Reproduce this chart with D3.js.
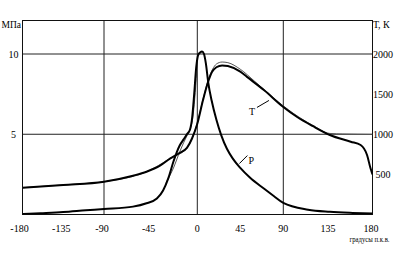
<!DOCTYPE html>
<html><head><meta charset="utf-8">
<script src="https://cdn.jsdelivr.net/npm/d3@7"></script>
<style>
body{margin:0;background:#fff}
svg{display:block}
text{font-family:"Liberation Serif","DejaVu Serif",serif;fill:#000}
</style>
</head><body><svg id="c" width="397" height="255"></svg>
<script>
// ---- data ----
const angleTicks = [-180,-135,-90,-45,0,45,90,135,180];
const gridAngles = [-90,0,90];
const pTicks = [5,10];
const tTicks = [500,1000,1500,2000];

// pressure, MPa (thick curve)
const anglesP  = [-180,-160,-135,-110,-90,-62,-49,-39,-33,-28,-23,-17,-13,-10,-7,-5,-3,-1,1,3,5,7,9,11.5,15,20,25,31,37,45,55,70,80,90,115,137,160,180];
const pressure = [0.03,0.08,0.15,0.26,0.34,0.49,0.7,1.0,1.5,2.25,3.3,4.3,4.7,5.0,5.3,6.0,7.5,9.2,9.95,10.1,10.15,10.0,9.4,8.2,7.1,5.9,4.95,4.1,3.5,2.9,2.3,1.6,1.15,0.72,0.3,0.17,0.1,0.06];
// pressure, MPa (thin curve, differs near the shoulder)
const anglesP2  = [-30,-23,-17,-13,-10,-7,-4,-2,0];
const pressure2 = [2.0,2.9,3.9,4.5,4.9,5.3,6.2,7.6,9.4];

// temperature, K (thick curve)
const anglesT     = [-180,-135,-90,-62,-49,-36,-26,-18,-10,-5,0,6,11.5,15.5,20,26,32,45,52,70,90,104,120,137,158,168,174.5,178,180];
const temperature = [334,368,409,484,533,608,700,760,830,950,1130,1427,1660,1779,1835,1858,1850,1780,1715,1548,1340,1215,1100,991,907,866,741,576,500];
// temperature, K (thin curve)
const anglesT2     = [-180,-135,-90,-49,-26,-10,0,6,11.5,16,20,26,32,45,60,80,100,120,137,150,165,180];
const temperature2 = [334,368,409,533,700,830,1140,1440,1680,1810,1875,1900,1892,1810,1660,1450,1262,1110,1010,1003,1000,998];

const pLabelAngle = 43;
const tLabelAngle = 75;

// ---- drawing ----
const svg = d3.select("#c");
const x = d3.scaleLinear().domain([-180,-90,0,90,180]).range([22.5,104,197.3,283.3,372.5]);
const y = d3.scaleLinear().domain([0,10]).range([214.5,54]);
const yT = d3.scaleLinear().domain([0,2000]).range([214.5,54]);
const topY = 20.5;

svg.append("clipPath").attr("id","clip").append("rect")
  .attr("x",x(-180)).attr("y",topY).attr("width",x(180)-x(-180)).attr("height",y(0)-topY);

// grid
svg.selectAll("line.gv").data(gridAngles).join("line")
  .attr("x1",d=>x(d)).attr("x2",d=>x(d)).attr("y1",topY).attr("y2",y(0))
  .attr("stroke","#222").attr("stroke-width",1);
svg.selectAll("line.gh").data(pTicks).join("line")
  .attr("x1",x(-180)).attr("x2",x(180)).attr("y1",d=>y(d)).attr("y2",d=>y(d))
  .attr("stroke","#222").attr("stroke-width",1);
// frame
svg.append("rect").attr("x",x(-180)).attr("y",topY).attr("width",x(180)-x(-180)).attr("height",y(0)-topY)
  .attr("fill","none").attr("stroke","#111").attr("stroke-width",1);

const g = svg.append("g").attr("clip-path","url(#clip)");
const lineP = (a,v)=>d3.line().curve(d3.curveMonotoneX).x((d,i)=>x(a[i])).y(d=>y(d))(v);
const lineT = (a,v)=>d3.line().curve(d3.curveMonotoneX).x((d,i)=>x(a[i])).y(d=>yT(d))(v);

g.append("path").attr("d",lineT(anglesT2,temperature2)).attr("fill","none").attr("stroke","#555").attr("stroke-width",1);
g.append("path").attr("d",lineP(anglesP2,pressure2)).attr("fill","none").attr("stroke","#555").attr("stroke-width",1);
g.append("path").attr("d",lineT(anglesT,temperature)).attr("fill","none").attr("stroke","#000").attr("stroke-width",2);
g.append("path").attr("d",lineP(anglesP,pressure)).attr("fill","none").attr("stroke","#000").attr("stroke-width",2);

// tick labels
svg.selectAll("text.xt").data(angleTicks).join("text")
  .attr("x",d=>x(d)-(d<0?2:0)+(d===-180?-1:0)+(d===180?-1.5:0)).attr("y",232)
  .attr("text-anchor","middle").attr("font-size",10).text(d=>d);
svg.selectAll("text.yl").data(pTicks).join("text")
  .attr("x",13.5).attr("y",d=>y(d)+4).attr("text-anchor","middle").attr("font-size",10).text(d=>d);
svg.selectAll("text.yr").data(tTicks).join("text")
  .attr("x",383).attr("y",d=>yT(d)+4).attr("text-anchor","middle").attr("font-size",10).text(d=>d);

svg.append("text").attr("x",1.5).attr("y",28).attr("font-size",9.5).text("МПа");
svg.append("text").attr("x",373).attr("y",28).attr("font-size",10).text("Т, К");
svg.append("text").attr("x",349.5).attr("y",241.5).attr("font-size",8)
  .attr("textLength",40).attr("lengthAdjust","spacingAndGlyphs").text("градусы п.к.в.");

// curve labels
const interp = (a,v,t)=>d3.scaleLinear().domain(a).range(v)(t);
const pxP = x(pLabelAngle), pyP = y(interp(anglesP,pressure,pLabelAngle));
svg.append("line").attr("x1",pxP+1).attr("y1",pyP-2).attr("x2",pxP+9).attr("y2",pyP-10).attr("stroke","#000");
svg.append("text").attr("x",pxP+10).attr("y",pyP-2).attr("font-size",10).text("P");
const pxT = x(tLabelAngle), pyT = yT(interp(anglesT,temperature,tLabelAngle));
svg.append("line").attr("x1",pxT).attr("y1",pyT+6).attr("x2",pxT-12).attr("y2",pyT+13).attr("stroke","#000");
svg.append("text").attr("x",pxT-20).attr("y",pyT+21).attr("font-size",10).text("T");
</script>
</body></html>
